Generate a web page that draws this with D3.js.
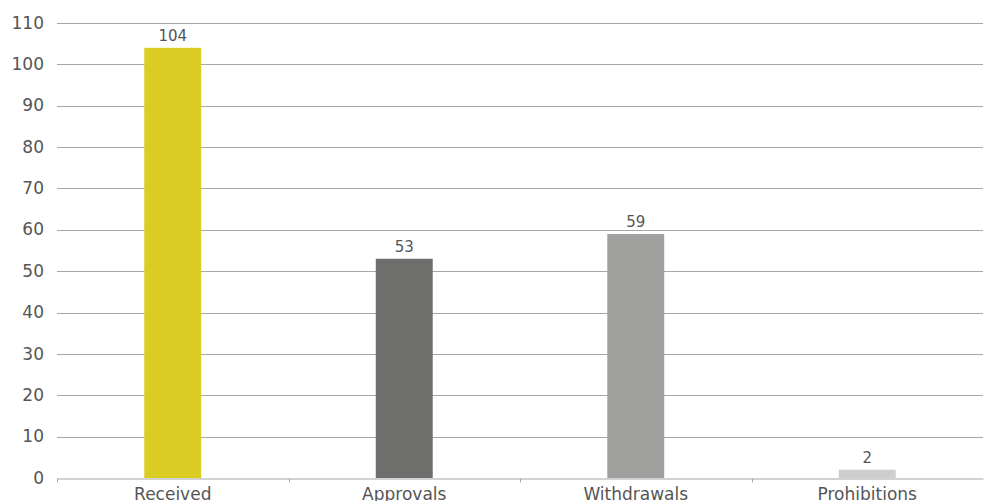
<!DOCTYPE html>
<html>
<head>
<meta charset="utf-8">
<script src="https://cdn.jsdelivr.net/npm/d3@7"></script>
<style>
  html, body { margin: 0; padding: 0; background: #ffffff; }
  svg { display: block; }
</style>
</head>
<body>
<svg id="chart" width="984" height="501"></svg>
<script>
// Merger notifications by outcome
const categories = ["Received", "Approvals", "Withdrawals", "Prohibitions"];
const counts = [104, 53, 59, 2];
const barColors = ["#dccd24", "#6e6e6c", "#a0a19f", "#cdcfcd"];
const yTicks = [0, 10, 20, 30, 40, 50, 60, 70, 80, 90, 100, 110];

const svg = d3.select("#chart");
const margin = { left: 57, right: 1, top: 23, bottom: 23 };
const W = 984, H = 501;

const x = d3.scaleBand()
  .domain(categories)
  .range([margin.left, W - margin.right])
  .paddingInner(0)
  .paddingOuter(0);

const y = d3.scaleLinear()
  .domain([0, 110])
  .range([H - margin.bottom, margin.top]);

const font = "'DejaVu Sans', Verdana, sans-serif";

// horizontal gridlines
svg.append("g")
  .selectAll("line")
  .data(yTicks.filter(t => t > 0))
  .join("line")
  .attr("x1", margin.left)
  .attr("x2", W - margin.right)
  .attr("y1", d => Math.round(y(d)) + 0.5)
  .attr("y2", d => Math.round(y(d)) + 0.5)
  .attr("stroke", "#a6a6a6")
  .attr("stroke-width", 1);

// y-axis labels
svg.append("g")
  .selectAll("text")
  .data(yTicks)
  .join("text")
  .attr("x", 44)
  .attr("y", d => y(d))
  .attr("dy", "0.33em")
  .attr("text-anchor", "end")
  .attr("font-family", font)
  .attr("font-size", 17)
  .attr("fill", "#555555")
  .text(d => d);

// bars
const barW = x.bandwidth() * 0.246;
svg.append("g")
  .selectAll("rect")
  .data(categories)
  .join("rect")
  .attr("x", d => x(d) + x.bandwidth() / 2 - barW / 2)
  .attr("y", (d, i) => y(counts[i]))
  .attr("width", barW)
  .attr("height", (d, i) => y(0) - y(counts[i]))
  .attr("fill", (d, i) => barColors[i]);

// value labels
svg.append("g")
  .selectAll("text")
  .data(categories)
  .join("text")
  .attr("x", d => x(d) + x.bandwidth() / 2)
  .attr("y", (d, i) => y(counts[i]) - 7)
  .attr("text-anchor", "middle")
  .attr("font-family", font)
  .attr("font-size", 15)
  .attr("fill", "#555555")
  .text((d, i) => counts[i]);

// x axis baseline with category separator ticks
const xAxis = d3.axisBottom(x).tickSize(0).tickPadding(0);
const gx = svg.append("g")
  .attr("transform", `translate(0,${Math.round(y(0)) + 0.5})`)
  .call(xAxis);
gx.select(".domain").attr("stroke", "#a6a6a6").attr("stroke-width", 1.2);
gx.selectAll(".tick text")
  .attr("font-family", font)
  .attr("font-size", 17)
  .attr("fill", "#555555")
  .attr("y", 21)
  .attr("dy", null);

const bounds = categories.map(c => x(c));
gx.append("g")
  .selectAll("line")
  .data(bounds)
  .join("line")
  .attr("x1", d => Math.round(d) + 0.5)
  .attr("x2", d => Math.round(d) + 0.5)
  .attr("y1", 0)
  .attr("y2", 4)
  .attr("stroke", "#a6a6a6");
</script>
</body>
</html>
